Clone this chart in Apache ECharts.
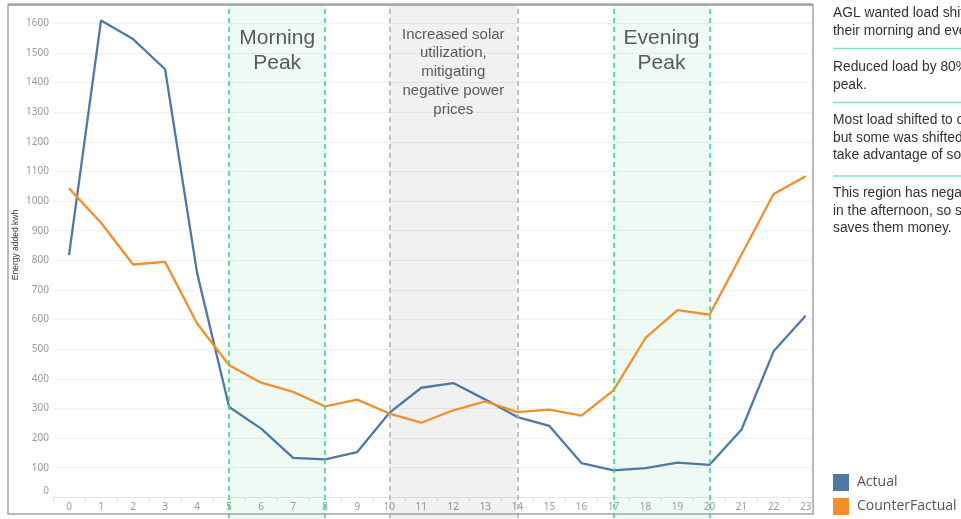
<!DOCTYPE html>
<html>
<head>
<meta charset="utf-8">
<title>Energy added by hour</title>
<script src="https://cdn.jsdelivr.net/npm/echarts@6/dist/echarts.min.js"></script>
<style>
  html, body { margin: 0; padding: 0; background: #ffffff; }
  #chart { width: 961px; height: 519px; }
</style>
</head>
<body>
<div id="chart"></div>
<script>
// Hour of day (x categories)
const hours = [0, 1, 2, 3, 4, 5, 6, 7, 8, 9, 10, 11, 12, 13, 14, 15, 16, 17, 18, 19, 20, 21, 22, 23];

// Energy added (kWh) per hour
const actual = [818, 1610, 1547, 1445, 757, 305, 232, 133, 128, 153, 285, 370, 386, 330, 271, 241, 116, 91, 99, 117, 110, 229, 493, 613];
const counterFactual = [1043, 927, 786, 795, 587, 446, 387, 356, 307, 330, 283, 252, 294, 324, 288, 296, 276, 361, 538, 632, 617, 820, 1024, 1084];

// Y tick labels
const yTicks = [0, 100, 200, 300, 400, 500, 600, 700, 800, 900, 1000, 1100, 1200, 1300, 1400, 1500, 1600];

// Highlighted hour windows
const peakWindows = [
  { name: 'Morning\nPeak', from: 5, to: 8 },
  { name: 'Evening\nPeak', from: 17, to: 20 }
];
const solarWindow = { name: 'Increased solar\nutilization,\nmitigating\nnegative power\nprices', from: 10, to: 14 };

// Side notes
const notes = [
  'AGL wanted load shifted out of\ntheir morning and evening peaks.',
  'Reduced load by 80% during the evening\npeak.',
  'Most load shifted to overnight hours,\nbut some was shifted to midday to\ntake advantage of solar.',
  'This region has negative prices\nin the afternoon, so shifting load\nsaves them money.'
];

const tickBounds = hours.map(h => h - 0.5);

const GREEN_LINE = '#2fe081';
const GREEN_FILL = 'rgba(70, 205, 125, 0.09)';
const GRAY_LINE = '#b4b4b4';
const GRAY_FILL = 'rgba(0, 0, 0, 0.055)';

const chart = echarts.init(document.getElementById('chart'), null, { renderer: 'canvas' });

const areaLabel = (fontSize, lineHeight, distance) => ({
  show: true,
  position: 'insideTop',
  distance: distance,
  color: '#5a5a5a',
  fontFamily: 'Liberation Sans, Arial, sans-serif',
  fontSize: fontSize,
  lineHeight: lineHeight,
  align: 'center'
});

const markAreaData = peakWindows.map(w => [
  { name: w.name, xAxis: w.from, itemStyle: { color: GREEN_FILL }, label: areaLabel(21, 25, 21) },
  { xAxis: w.to }
]).concat([[
  { name: solarWindow.name, xAxis: solarWindow.from, itemStyle: { color: GRAY_FILL }, label: areaLabel(15, 18.8, 20) },
  { xAxis: solarWindow.to }
]]);

const markLineData = [];
peakWindows.forEach(w => {
  [w.from, w.to].forEach(v => markLineData.push({ xAxis: v, lineStyle: { color: GREEN_LINE } }));
});
[solarWindow.from, solarWindow.to].forEach(v => markLineData.push({ xAxis: v, lineStyle: { color: GRAY_LINE } }));

// Right-hand notes, stacked with separators
const noteTops = [4, 58, 111, 184];
const sepYs = [48.5, 102.5, 176];
const graphics = [];
notes.forEach((t, i) => {
  graphics.push({
    type: 'text', left: 833, top: noteTops[i], z: 50,
    style: { text: t, fill: '#333333', fontSize: 13.8, fontFamily: 'Liberation Sans, Arial, sans-serif', lineHeight: 17.8 }
  });
});
sepYs.forEach(y => {
  graphics.push({
    type: 'line', z: 50,
    shape: { x1: 833, y1: y, x2: 961, y2: y },
    style: { stroke: '#86e3b0', lineWidth: 1.5 }
  });
});
// Chart frame
graphics.push({
  type: 'rect', z: 100, silent: true,
  shape: { x: 8, y: 5, width: 805, height: 509 },
  style: { fill: 'none', stroke: '#a3a3a3', lineWidth: 1.5 }
});
graphics.push({
  type: 'line', z: 101, silent: true,
  shape: { x1: 8, y1: 4.5, x2: 813, y2: 4.5 },
  style: { stroke: '#a8a8a8', lineWidth: 2.5 }
});
// Y axis title
graphics.push({
  type: 'text', z: 50, x: 16, y: 245, rotation: Math.PI / 2,
  style: { text: 'Energy added kwh', fill: '#3a3a3a', fontSize: 8.5, fontFamily: 'Liberation Sans, Arial, sans-serif', align: 'center', verticalAlign: 'middle' }
});

const option = {
  animation: false,
  backgroundColor: '#ffffff',
  grid: { left: 53, right: 148, top: 5, bottom: -8, containLabel: false, outerBoundsMode: 'none' },
  legend: {
    data: ['Actual', 'CounterFactual'],
    orient: 'vertical',
    left: 833,
    top: 474,
    padding: 0,
    icon: 'rect',
    itemWidth: 16,
    itemHeight: 17,
    itemGap: 7,
    textStyle: { fontSize: 14, color: '#555555', fontFamily: 'Open Sans, sans-serif', padding: [0, 0, 0, 3] }
  },
  xAxis: {
    type: 'value',
    min: -0.5,
    max: 23.23,
    // lift the axis from the grid's lower edge up to the zero line
    offset: -29.6,
    axisLine: { show: true, onZero: false, lineStyle: { color: '#e6e6e6', width: 1 } },
    axisTick: { show: true, customValues: tickBounds, length: 4, lineStyle: { color: '#e3e3e3' } },
    axisLabel: {
      customValues: hours,
      color: '#9a9a9a',
      fontSize: 10,
      fontFamily: 'Noto Sans, sans-serif',
      margin: 5
    },
    splitLine: { show: false }
  },
  yAxis: {
    type: 'value',
    min: -100,
    max: 1662,
    interval: 100,
    axisLine: { show: false },
    axisTick: { show: false },
    splitLine: { show: true, lineStyle: { color: '#f0f0f0', width: 1 } },
    axisLabel: {
      color: '#9a9a9a',
      fontSize: 10,
      fontFamily: 'Noto Sans, sans-serif',
      margin: 4,
      formatter: v => {
        if (yTicks.indexOf(v) < 0) return '';
        return v === 0 ? '{z|0}' : String(v);
      },
      rich: { z: { color: '#9a9a9a', fontSize: 10, fontFamily: 'Noto Sans, sans-serif', padding: [0, 0, 12, 0] } }
    }
  },
  series: [
    {
      name: 'Actual',
      type: 'line',
      data: hours.map((h, i) => [h, actual[i]]),
      showSymbol: false,
      symbol: 'none',
      lineStyle: { color: '#4e79a7', width: 2.3 },
      itemStyle: { color: '#4e79a7' },
      markArea: { silent: true, data: markAreaData }
    },
    {
      name: 'CounterFactual',
      type: 'line',
      data: hours.map((h, i) => [h, counterFactual[i]]),
      showSymbol: false,
      symbol: 'none',
      lineStyle: { color: '#f28e2b', width: 2.3 },
      itemStyle: { color: '#f28e2b' },
      markLine: {
        silent: true,
        symbol: ['none', 'none'],
        label: { show: false },
        lineStyle: { type: [5, 4], width: 1.6, opacity: 1 },
        emphasis: { disabled: true },
        data: markLineData
      }
    }
  ],
  graphic: graphics
};

chart.setOption(option);
</script>
</body>
</html>
